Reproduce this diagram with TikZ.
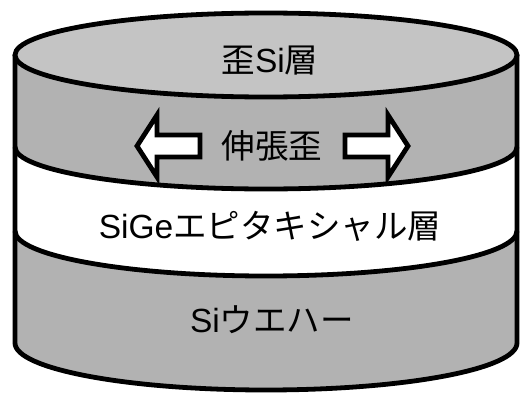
\documentclass[tikz,border=0pt]{standalone}
\usepackage{fontspec}
\setmainfont{Liberation Sans}
\newfontfamily\jp{Noto Sans CJK JP}
\definecolor{topgray}{gray}{0.77}
\definecolor{sidegray}{gray}{0.70}
\begin{document}
\begin{tikzpicture}[x=1pt,y=1pt,
    outline/.style={line width=4.8pt, draw=black},
    layerlabel/.style={font=\fontsize{33.5pt}{40pt}\selectfont, inner sep=0pt},
    strainarrow/.style={line width=4.8pt, draw=black, fill=white, line join=miter}]
  \useasboundingbox (0,0) rectangle (521,-396);

  % side band below the strained Si top face
  \fill[sidegray] (15,-55) arc[start angle=180,end angle=360,x radius=251pt,y radius=42pt]
    -- (517,-147) arc[start angle=0,end angle=-180,x radius=251pt,y radius=42pt] -- cycle;
  % Si wafer body
  \fill[sidegray] (15,-231) arc[start angle=180,end angle=360,x radius=251pt,y radius=45pt]
    -- (517,-343) arc[start angle=0,end angle=-180,x radius=251pt,y radius=47pt] -- cycle;

  % layer boundaries
  \draw[outline] (15,-147) arc[start angle=180,end angle=360,x radius=251pt,y radius=42pt];
  \draw[outline] (15,-231) arc[start angle=180,end angle=360,x radius=251pt,y radius=45pt];
  % cylinder walls and bottom rim
  \draw[outline] (15,-55) -- (15,-343)
    arc[start angle=180,end angle=360,x radius=251pt,y radius=47pt] -- (517,-55);
  % top face
  \draw[outline, fill=topgray] (266,-55) ellipse[x radius=251pt, y radius=42pt];

  % tensile strain arrows
  \draw[strainarrow] (137,-146) -- (157,-115) -- (157,-135) -- (200,-135)
    -- (200,-157) -- (157,-157) -- (157,-177) -- cycle;
  \draw[strainarrow] (408,-146) -- (388,-115) -- (388,-135) -- (345,-135)
    -- (345,-157) -- (388,-157) -- (388,-177) -- cycle;

  % labels
  \node[layerlabel] (strainedsi) at (270,-61) {{\jp 歪}Si{\jp 層}};
  \node[layerlabel] (tensile) at (272,-146) {\jp 伸張歪};
  \node[layerlabel] (sige) at (270,-226) {SiGe{\jp エピタキシャル層}};
  \node[layerlabel] (wafer) at (272,-320) {Si{\jp ウエハー}};
\end{tikzpicture}
\end{document}
